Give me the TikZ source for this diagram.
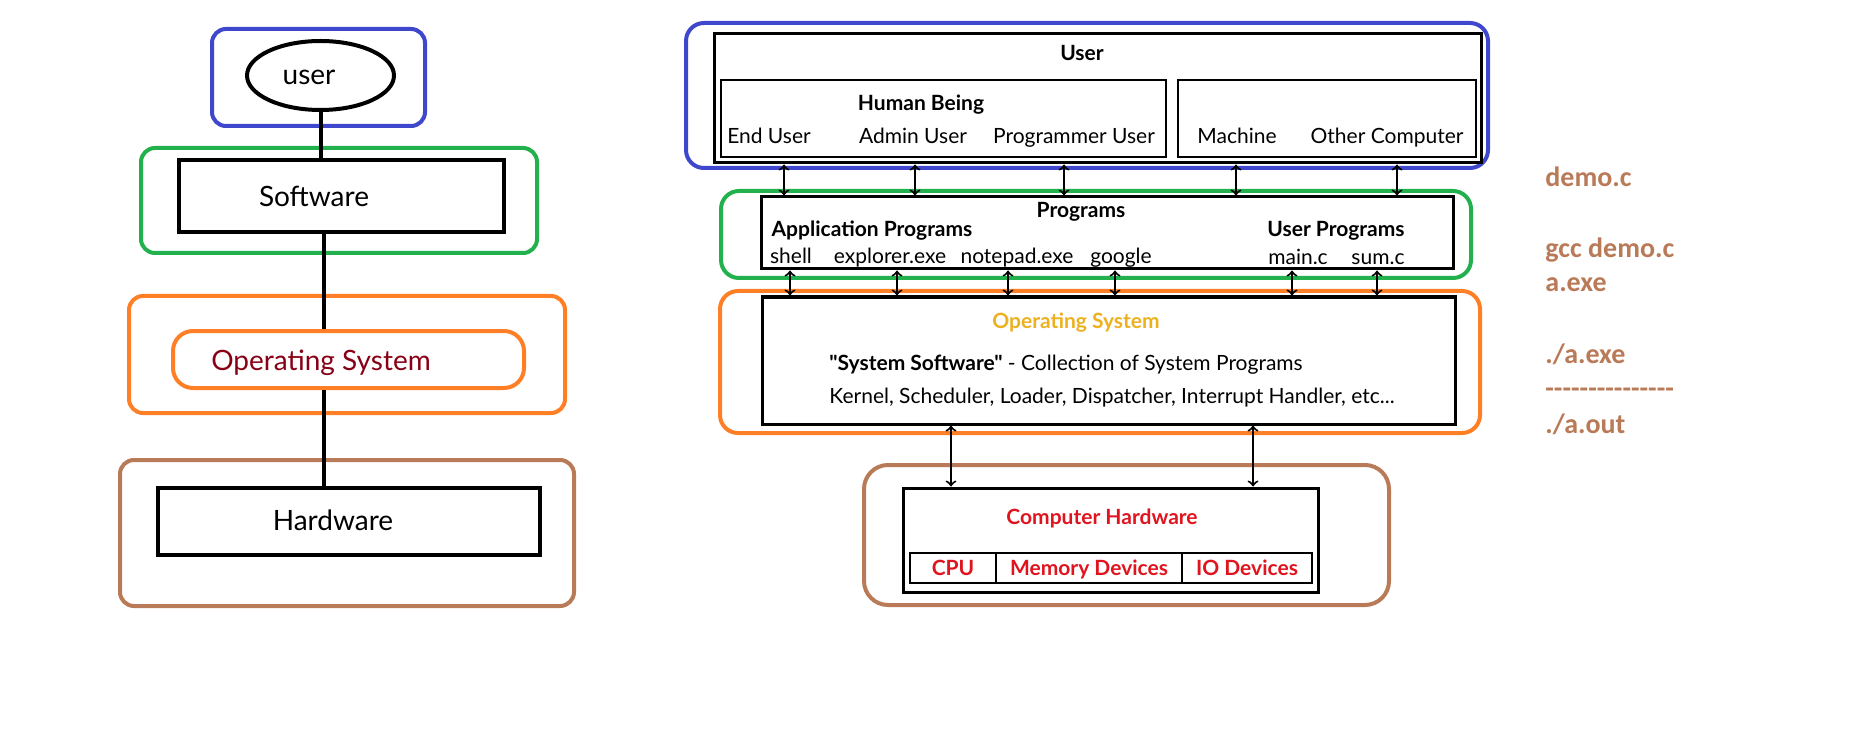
\documentclass[tikz,border=0pt]{standalone}
\usepackage{fontspec}
\setmainfont{Lato}[Ligatures=TeXOff]
\newfontfamily\notefont{Carlito}
\usetikzlibrary{arrows}
\usetikzlibrary{shapes.geometric}

\definecolor{paintblue}{RGB}{63,72,204}
\definecolor{paintgreen}{RGB}{34,177,76}
\definecolor{paintorange}{RGB}{255,127,39}
\definecolor{paintbrown}{RGB}{185,122,87}
\definecolor{osred}{RGB}{136,0,21}
\definecolor{osgold}{RGB}{237,177,32}
\definecolor{hwred}{RGB}{224,20,30}
\newcommand{\hyph}{-\kern0pt}

\begin{document}
\begin{tikzpicture}[x=0.5pt,y=-0.5pt,
        frame/.style={line width=2pt, rounded corners=7pt},
        bigbox/.style={draw, line width=2pt, inner sep=0pt},
        bigtxt/.style={inner sep=0pt, text height=10pt, text depth=0pt, font=\fontsize{14}{17}\selectfont},
        panel/.style={draw, line width=1.5pt, inner sep=0pt},
        subpanel/.style={draw, line width=1pt, inner sep=0pt},
        txt/.style={inner sep=0pt, text height=7.5pt, text depth=0pt, font=\fontsize{10.5}{12.6}\selectfont},
        btxt/.style={txt, font=\fontsize{10.5}{12.6}\selectfont\bfseries},
        link/.style={line width=2pt},
        dbl/.style={<->, >=to, line width=1pt},
        note/.style={anchor=west, inner sep=0pt, text height=9pt, text depth=0pt, text=paintbrown, font=\notefont\bfseries\fontsize{14}{17}\selectfont}]
        \useasboundingbox (0,0) rectangle (1852,743);

        % left: the four layers
        \draw[paintblue, frame] (212,29) rectangle (425,126);
        \draw[paintgreen, frame] (141,148) rectangle (537,253);
        \draw[paintorange, frame] (129,296) rectangle (565,413);
        \draw[paintbrown, frame] (120,460) rectangle (574,606);

        \node[bigbox, ellipse, minimum width=73.5pt, minimum height=34.5pt] (user) at (320.5,75.5) {};
        \node[bigtxt] (usertxt) at (309,75) {user};
        \node[bigbox, minimum width=162.5pt, minimum height=36pt] (sw) at (341.5,196) {};
        \node[bigtxt] (swtxt) at (314,197) {Software};
        \node[draw=paintorange, line width=2pt, rounded corners=10pt, inner sep=0pt,
              minimum width=175.5pt, minimum height=28.5pt] (os) at (348.5,359.5) {};
        \node[bigtxt, text=osred] (ostxt) at (321,360) {Operating System};
        \node[bigbox, minimum width=191pt, minimum height=33.5pt] (hw) at (349,521.5) {};
        \node[bigtxt] (hwtxt) at (333,520) {Hardware};

        \coordinate (spine) at (324,0);
        \draw[link] (user) -- (user |- sw.north);
        \draw[link] (sw.south -| spine) -- (os.north -| spine);
        \draw[link] (os.south -| spine) -- (hw.north -| spine);

        % right: the same layers in detail
        \draw[paintblue, frame, rounded corners=9pt] (686,23) rectangle (1488,168);
        \draw[paintgreen, frame, rounded corners=9pt] (721,191) rectangle (1471,278);
        \draw[paintorange, frame, rounded corners=9pt] (720,291) rectangle (1480,433);
        \draw[paintbrown, frame, rounded corners=12pt] (864,465) rectangle (1389,605);

        \node[panel, minimum width=383.5pt, minimum height=64.5pt] (userbox) at (1097.5,98.5) {};
        \node[btxt] (usertitle) at (1082,53) {User};
        \node[subpanel, minimum width=222.5pt, minimum height=38.5pt] (human) at (943.5,118.5) {};
        \node[subpanel, minimum width=149pt, minimum height=38.5pt] (machine) at (1327,118.5) {};
        \node[btxt] (humantitle) at (921,103) {Human Being};
        \node[txt] (enduser) at (769,136) {End User};
        \node[txt] (adminuser) at (913,136) {Admin User};
        \node[txt] (proguser) at (1074,136) {Programmer User};
        \node[txt] (machinetxt) at (1237,136) {Machine};
        \node[txt] (othercomp) at (1387,136) {Other Computer};

        \node[panel, minimum width=346pt, minimum height=36pt] (progs) at (1107,233) {};
        \node[btxt] (progtitle) at (1081,210) {Programs};
        \node[btxt] (apptitle) at (872,229) {Application Programs};
        \node[btxt] (usrtitle) at (1336,229) {User Programs};
        \node[txt] (shell) at (791,256) {shell};
        \node[txt] (explorer) at (890,256) {explorer.exe};
        \node[txt] (notepad) at (1017,256) {notepad.exe};
        \node[txt] (google) at (1121,256) {google};
        \node[txt] (mainc) at (1298,257) {main.c};
        \node[txt] (sumc) at (1378,257) {sum.c};

        \node[panel, minimum width=346.5pt, minimum height=63.5pt] (osbox) at (1108.5,360.5) {};
        \node[btxt, text=osgold] (ostitle) at (1076,321) {Operating System};
        \node[txt, anchor=west] (sysline) at (829,363) {\textbf{"System Software"} - Collection of System Programs};
        \node[txt, anchor=west] (kernline) at (829,396) {Kernel, Scheduler, Loader, Dispatcher, Interrupt Handler, etc...};

        \node[panel, minimum width=207.5pt, minimum height=52pt] (hwbox) at (1110.5,540) {};
        \node[btxt, text=hwred] (hwtitle) at (1102,517) {Computer Hardware};
        \node[subpanel, btxt, text=hwred, minimum width=43pt, minimum height=15pt] (cpu) at (953,568) {CPU};
        \node[subpanel, btxt, text=hwred, minimum width=93pt, minimum height=15pt] (mem) at (1089,568) {Memory Devices};
        \node[subpanel, btxt, text=hwred, minimum width=65pt, minimum height=15pt] (io) at (1247,568) {IO Devices};

        \foreach \x in {784,915,1064,1236,1397} {
            \coordinate (tap) at (\x,0);
            \draw[dbl] (userbox.south -| tap) -- (progs.north -| tap);
        }
        \foreach \x in {790,897,1008,1115,1292,1377} {
            \coordinate (tap) at (\x,0);
            \draw[dbl] (progs.south -| tap) -- (osbox.north -| tap);
        }
        \foreach \x in {951,1253} {
            \coordinate (tap) at (\x,0);
            \draw[dbl] (osbox.south -| tap) -- (hwbox.north -| tap);
        }

        % notes on the right
        \node[note] (n1) at (1545,178) {demo.c};
        \node[note] (n2) at (1545,248) {gcc demo.c};
        \node[note] (n3) at (1545,283) {a.exe};
        \node[note] (n4) at (1545,354) {./a.exe};
        \node[note] (n5) at (1545,388) {\hyph\hyph\hyph\hyph\hyph\hyph\hyph\hyph\hyph\hyph\hyph\hyph\hyph\hyph\hyph};
        \node[note] (n6) at (1545,424) {./a.out};
    \end{tikzpicture}
\end{document}
